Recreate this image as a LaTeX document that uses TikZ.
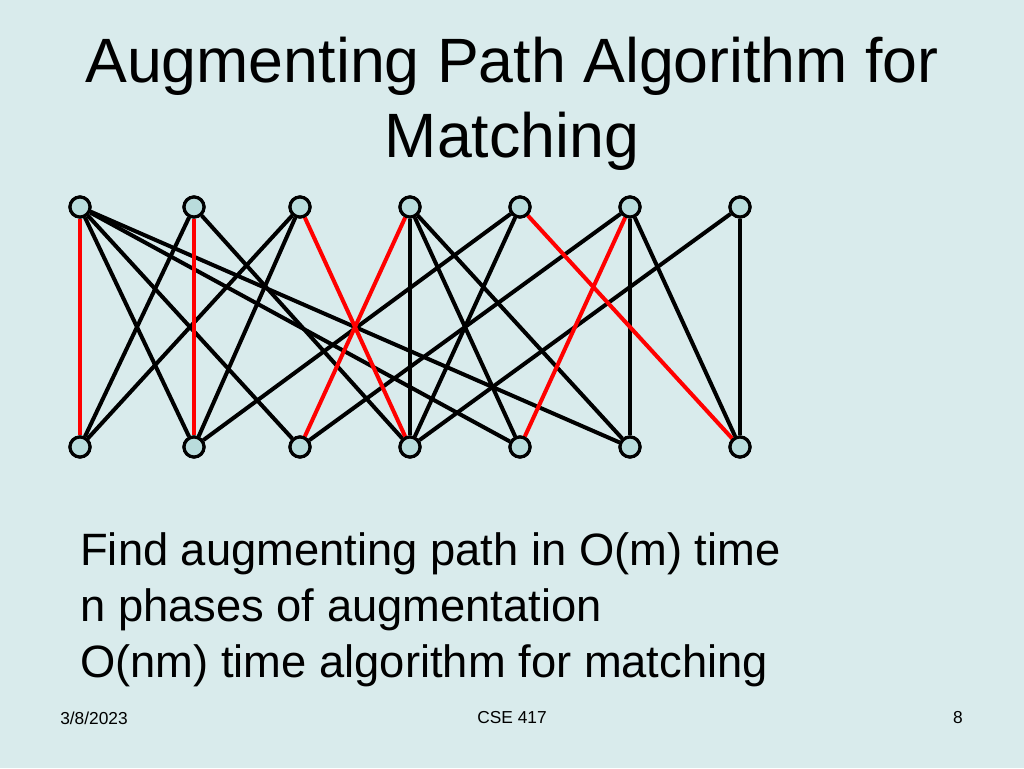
\documentclass[tikz,border=0pt]{standalone}
\usepackage{fontspec}
\setmainfont{Liberation Sans}
\definecolor{slidebg}{HTML}{D9EBEC}
\definecolor{vfill}{HTML}{B9DCDC}
\tikzset{
    vtx/.style = {circle, draw, line width = 2.4pt, fill = vfill, minimum size = 15pt, inner sep = 0pt},
    edge/.style = {line width = 3pt},
    medge/.style = {edge, red}
}
\begin{document}
\begin{tikzpicture}[x = 0.75pt, y = -0.75pt]
    \fill[slidebg] (0,0) rectangle (1024,768);
    \useasboundingbox (0,0) rectangle (1024,768);
    \node (title) at (512,104) [align = center, font = \fontsize{47}{56}\selectfont] {Augmenting Path Algorithm for\\Matching};
    \foreach \i/\x in {1/80, 2/194, 3/300, 4/410, 5/520, 6/630, 7/740}
    {
        \node[vtx] (t\i) at (\x,207) {};
        \node[vtx] (b\i) at (\x,447) {};
    }
    \foreach \u/\v in {1/2, 1/3, 1/5, 1/6, 2/1, 2/4, 3/1, 3/2, 4/4, 4/5, 4/6, 5/2, 5/4, 6/3, 6/6, 6/7, 7/4, 7/7}
    \draw[edge] (t\u) -- (b\v);
    \foreach \u/\v in {1/1, 2/2, 3/4, 4/3, 5/7, 6/5}
    \draw[medge] (t\u) -- (b\v);
    \foreach \i in {1, ..., 7}
    {
        \node[vtx] at (t\i) {};
        \node[vtx] at (b\i) {};
    }
    \node (body) at (80,610) [anchor = west, inner sep = 0pt, align = left, font = \fontsize{34}{42}\selectfont] {Find augmenting path in O(m) time\\n phases of augmentation\\O(nm) time algorithm for matching};
    \node (date) at (60,718) [anchor = west, inner sep = 0pt, font = \fontsize{13}{15}\selectfont] {3/8/2023};
    \node (course) at (512,718) [font = \fontsize{13}{15}\selectfont] {CSE 417};
    \node (page) at (963,718) [anchor = east, inner sep = 0pt, font = \fontsize{13}{15}\selectfont] {8};
\end{tikzpicture}
\end{document}
